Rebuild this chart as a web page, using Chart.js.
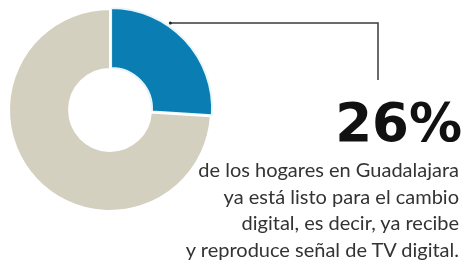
<!DOCTYPE html>
<html>
<head>
<meta charset="utf-8">
<script src="https://cdn.jsdelivr.net/npm/chart.js@4.4.1/dist/chart.umd.min.js"></script>
<style>
  html, body { margin: 0; padding: 0; background: #ffffff; }
  #wrap { position: relative; width: 464px; height: 269px; overflow: hidden; }
  #c { position: absolute; left: 0; top: 0; }
  .big { position: absolute; right: 2px; top: 96px; font-family: "DejaVu Sans", sans-serif; font-weight: bold;
         font-size: 53px; line-height: 53px; color: #111111; white-space: nowrap; }
  .body { position: absolute; right: 5px; top: 156px; font-family: "Lato", sans-serif; font-size: 20px;
          line-height: 26.5px; color: #333333; text-align: right; white-space: nowrap; }
</style>
</head>
<body>
<div id="wrap">
  <canvas id="c" width="464" height="269"></canvas>
  <div class="big" id="big"></div>
  <div class="body" id="body"></div>
</div>
<script>
const categories = ["Listo para TV digital", "Resto de los hogares"];
const values = [26, 74];
const headline = "26%";
const bodyLines = [
  "de los hogares en Guadalajara",
  "ya está listo para el cambio",
  "digital, es decir, ya recibe",
  "y reproduce señal de TV digital."
];
const colors = ["#0a7db2", "#d4d0c0"];

document.getElementById("big").textContent = headline;
document.getElementById("body").innerHTML = bodyLines.map(s => s.replace(/&/g, "&amp;").replace(/</g, "&lt;")).join("<br>");

const leaderPlugin = {
  id: "leader",
  afterDatasetsDraw(chart) {
    const arc = chart.getDatasetMeta(0).data[0];
    const p = arc.getProps(["x", "y", "startAngle", "endAngle", "outerRadius"], true);
    const off = arc.options.offset || 0;
    const mid = (p.startAngle + p.endAngle) / 2;
    const cx = p.x + Math.cos(mid) * off;
    const cy = p.y + Math.sin(mid) * off;
    const ly = 23;
    const r = p.outerRadius - 1;
    const sx = cx + Math.sqrt(Math.max(r * r - (cy - ly) * (cy - ly), 0));
    const ctx = chart.ctx;
    ctx.save();
    ctx.strokeStyle = "#3a3a3a";
    ctx.lineWidth = 1.5;
    ctx.beginPath();
    ctx.moveTo(sx, ly);
    ctx.lineTo(378, ly);
    ctx.lineTo(378, 80);
    ctx.stroke();
    ctx.fillStyle = "#222";
    ctx.beginPath();
    ctx.arc(sx, ly, 1.5, 0, Math.PI * 2);
    ctx.fill();
    ctx.restore();
  }
};

new Chart(document.getElementById("c"), {
  type: "doughnut",
  data: {
    labels: categories,
    datasets: [{
      data: values,
      backgroundColor: colors,
      borderColor: ["#e8f6fb", "#ffffff"],
      borderWidth: 2,
      offset: [6, 0],
      hoverOffset: 0
    }]
  },
  options: {
    responsive: false,
    animation: false,
    radius: 101,
    cutout: "40.5%",
    layout: { padding: { left: 0, top: 0, right: 244, bottom: 49 } },
    plugins: { legend: { display: false }, tooltip: { enabled: false } },
    events: []
  },
  plugins: [leaderPlugin]
});
</script>
</body>
</html>
